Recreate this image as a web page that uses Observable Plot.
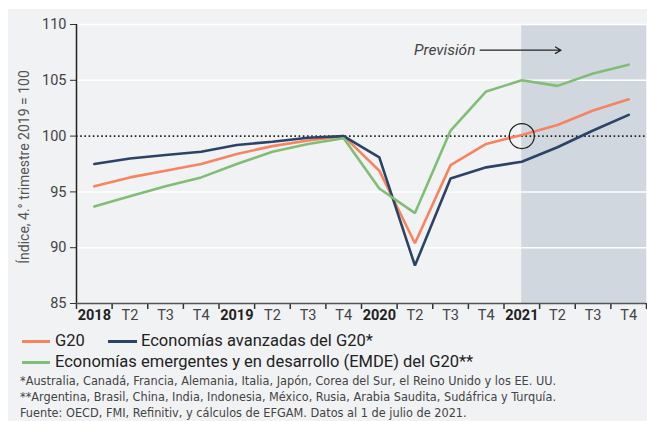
<!DOCTYPE html>
<html>
<head>
<meta charset="utf-8">
<script src="https://cdn.jsdelivr.net/npm/d3@7"></script>
<script src="https://cdn.jsdelivr.net/npm/@observablehq/plot@0.6"></script>
<style>
  html, body { margin: 0; padding: 0; background: #ffffff; width: 647px; height: 421px; overflow: hidden; }
  #panel { position: absolute; left: 8px; top: 9px; width: 639px; height: 412px; background: #f1f2f4; }
  #chart { position: absolute; left: 0; top: 0; }
  .leg { position: absolute; font-family: Roboto, "Open Sans", sans-serif; font-size: 16.5px; color: #222; white-space: nowrap; line-height: 1; }
  .sw { position: absolute; height: 3px; }
  .note { position: absolute; left: 20px; font-family: "DejaVu Sans Condensed", sans-serif; font-size: 12.6px; color: #444; white-space: nowrap; line-height: 1; }
</style>
</head>
<body>
<div id="panel"></div>
<div id="chart"></div>
<div class="sw" style="left:22px; top:340px; width:28px; background:#f5845f"></div>
<div class="leg" style="left:55px; top:333px">G20</div>
<div class="sw" style="left:108px; top:340px; width:29px; background:#2b4366"></div>
<div class="leg" style="left:141px; top:333px">Economías avanzadas del G20*</div>
<div class="sw" style="left:22px; top:361px; width:28px; background:#7fbe74"></div>
<div class="leg" style="left:55px; top:354px">Economías emergentes y en desarrollo (EMDE) del G20**</div>
<div class="note" style="top:375px">*Australia, Canadá, Francia, Alemania, Italia, Japón, Corea del Sur, el Reino Unido y los EE. UU.</div>
<div class="note" style="top:391px">**Argentina, Brasil, China, India, Indonesia, México, Rusia, Arabia Saudita, Sudáfrica y Turquía.</div>
<div class="note" style="top:407px">Fuente: OECD, FMI, Refinitiv, y cálculos de EFGAM. Datos al 1 de julio de 2021.</div>
<script>
const quarters = ["2018","T2","T3","T4","2019","T2","T3","T4","2020","T2","T3","T4","2021","T2","T3","T4"];
const years = ["2018","2019","2020","2021"];
const g20 =      [95.5, 96.3, 96.9, 97.5, 98.4, 99.1, 99.6, 100.0, 96.9, 90.4, 97.4, 99.3, 100.1, 101.0, 102.3, 103.3];
const advanced = [97.5, 98.0, 98.3, 98.6, 99.2, 99.5, 99.85, 100.0, 98.1, 88.4, 96.2, 97.2, 97.7, 99.0, 100.5, 101.9];
const emde =     [93.7, 94.6, 95.5, 96.3, 97.5, 98.6, 99.3, 99.8, 95.3, 93.1, 100.5, 104.0, 105.0, 104.5, 105.6, 106.4];
const yTicks = [85, 90, 95, 100, 105, 110];
const forecastStart = 12; // index of 2021 T1
const yLabel = "Índice, 4.° trimestre 2019 = 100";
const forecastLabel = "Previsión";

const series = [
  {name: "G20", values: g20, color: "#f5845f"},
  {name: "Economías avanzadas del G20*", values: advanced, color: "#2b4366"},
  {name: "Economías emergentes y en desarrollo (EMDE) del G20**", values: emde, color: "#7fbe74"}
];
const rows = series.flatMap(s => s.values.map((v, i) => ({x: i + 0.5, v, name: s.name, color: s.color})));
const labelPos = quarters.map((q, i) => i + 0.5);
const boundaries = d3.range(0, quarters.length + 1);

const font = "Roboto, 'Open Sans', sans-serif";
const chart = Plot.plot({
  width: 647,
  height: 330,
  marginLeft: 76,
  marginRight: 1,
  marginTop: 24,
  marginBottom: 27,
  style: {background: "transparent", fontFamily: font, overflow: "visible"},
  x: {type: "linear", domain: [0, quarters.length]},
  y: {domain: [85, 110]},
  marks: [
    Plot.rect([{x1: forecastStart + 0.5, x2: quarters.length}], {x1: "x1", x2: "x2", y1: 85, y2: 110, fill: "#d0d7de"}),
    Plot.ruleY(yTicks.filter(t => t !== 85 && t !== 100), {stroke: "#ffffff", strokeWidth: 1.5}),
    Plot.ruleY([100], {stroke: "#222", strokeWidth: 1.6, strokeDasharray: "1.6,2.6"}),
    Plot.axisY({ticks: yTicks, tickSize: 6, tickPadding: 4, fontSize: 14.5, color: "#444", stroke: "#333", label: null}),
    Plot.ruleX([0], {y1: 85, y2: 110, stroke: "#222", strokeWidth: 1.5}),
    Plot.text([yLabel], {frameAnchor: "left", textAnchor: "middle", lineAnchor: "middle", rotate: -90, dx: -52, dy: 3, fontSize: 14, fill: "#555", fontFamily: font}),
    Plot.axisX({ticks: boundaries, tickSize: 6, tickFormat: () => "", stroke: "#333", strokeWidth: 1.5, label: null}),
    Plot.axisX({ticks: labelPos, tickSize: 0, tickPadding: 6, fontSize: 14.5,
      tickFormat: d => quarters[Math.round(d - 0.5)], label: null, fill: "#444"}),
    Plot.ruleY([85], {stroke: "#555", strokeWidth: 1.5}),
    Plot.line(rows, {x: "x", y: "v", z: "name", stroke: "color", strokeWidth: 2.6, strokeLinejoin: "miter"}),
    Plot.dot([{x: forecastStart + 0.5, y: 100}], {x: "x", y: "y", r: 12.5, stroke: "#222", strokeWidth: 1.2, fill: "none"}),
    Plot.text([forecastLabel], {x: 11.2, y: 107.7, textAnchor: "end", fontSize: 15.5, fontStyle: "italic", fill: "#444", fontFamily: font}),
    Plot.arrow([{x1: 11.33, x2: 13.6, y: 107.7}], {x1: "x1", x2: "x2", y1: "y", y2: "y", stroke: "#222", strokeWidth: 1.2, headLength: 8, bend: 0})
  ]
});
// bold year labels
d3.select(chart).selectAll("text").filter(function() { return years.includes(this.textContent); })
  .attr("font-weight", "bold").attr("fill", "#222");
document.getElementById("chart").appendChild(chart);
</script>
</body>
</html>
